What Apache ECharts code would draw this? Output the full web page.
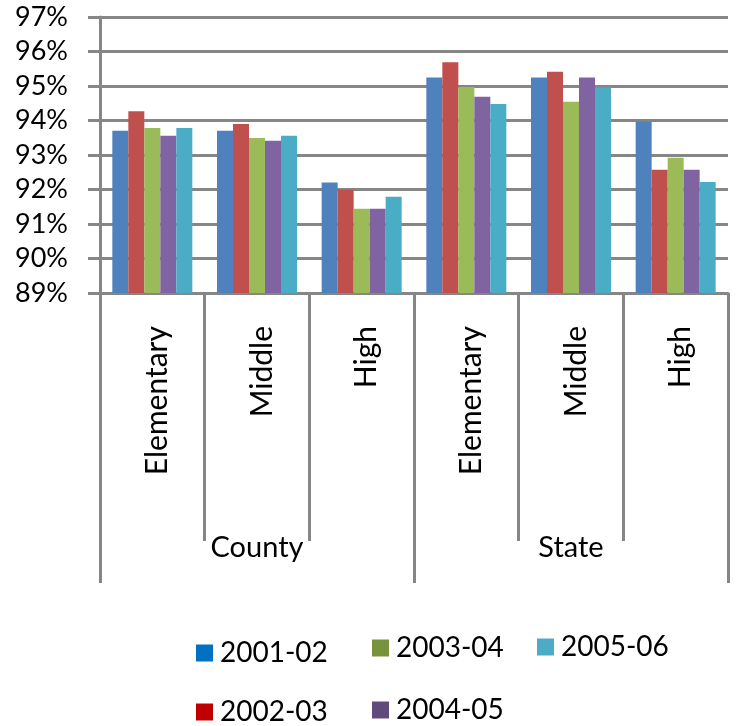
<!DOCTYPE html>
<html><head><meta charset="utf-8">
<script src="https://cdn.jsdelivr.net/npm/echarts@6/dist/echarts.min.js"></script>
<style>html,body{margin:0;padding:0;background:#fff}#c{width:737px;height:726px}</style>
</head><body><div id="c"></div>
<script>
const schoolLevels = ['Elementary','Middle','High','Elementary','Middle','High'];
const regions = ['County','State'];
const seriesNames = ['2001-02','2002-03','2003-04','2004-05','2005-06'];
const s2001 = [93.7, 93.7, 92.2, 95.25, 95.25, 93.97];
const s2002 = [94.27, 93.9, 92.0, 95.69, 95.41, 92.57];
const s2003 = [93.78, 93.49, 91.44, 94.97, 94.54, 92.92];
const s2004 = [93.56, 93.41, 91.44, 94.69, 95.25, 92.57];
const s2005 = [93.78, 93.56, 91.79, 94.48, 94.96, 92.22];
const yTicks = {min: 89, max: 97, step: 1};

const barColors = ['#4F81BD','#C0504D','#9BBB59','#8064A2','#4BACC6'];
const legendColors = ['#0070C0','#C00000','#77933C','#604A7B','#4BACC6'];
const allData = [s2001, s2002, s2003, s2004, s2005];
const gray = '#868686';
const font = 'Lato';
const legendPos = [[196,639],[196,698],[372,634],[372,696],[537,633]];

const chart = echarts.init(document.getElementById('c'));
chart.setOption({
  animation: false,
  textStyle: {fontFamily: font, color: '#000'},
  grid: {left: 100, right: 9, top: 17, bottom: 433, containLabel: false},
  legend: seriesNames.map((n, i) => ({
    left: legendPos[i][0], top: legendPos[i][1], padding: 0,
    itemWidth: 17, itemHeight: 17, itemGap: 0, icon: 'rect',
    textStyle: {fontSize: 28, fontFamily: font, color: '#000', padding: [0,0,0,2]},
    data: [{name: n, itemStyle: {color: legendColors[i]}}],
    selectedMode: false
  })),
  xAxis: [{
    type: 'category', data: schoolLevels, position: 'bottom',
    axisLine: {show: true, lineStyle: {color: gray, width: 3}},
    axisTick: {show: true, interval: 0, length: 248, lineStyle: {color: gray, width: 3}},
    axisLabel: {rotate: 90, interval: 0, margin: 33, fontSize: 30, fontFamily: font, color: '#000', verticalAlign: 'top', lineHeight: 10},
    splitLine: {show: false}
  }, {
    type: 'category', data: regions, position: 'bottom',
    axisLine: {show: false},
    axisTick: {show: true, interval: 0, length: 290, lineStyle: {color: gray, width: 3}},
    axisLabel: {interval: 0, margin: 240, fontSize: 29, fontFamily: font, color: '#000'},
    splitLine: {show: false}
  }],
  yAxis: {
    type: 'value', min: yTicks.min, max: yTicks.max, interval: yTicks.step,
    axisLine: {show: true, lineStyle: {color: gray, width: 3}},
    axisTick: {show: true, length: 12, lineStyle: {color: gray, width: 3}},
    axisLabel: {formatter: '{value}%', margin: 32, fontSize: 27, fontFamily: font, color: '#000'},
    splitLine: {show: true, lineStyle: {color: gray, width: 3}}
  },
  series: seriesNames.map((n, i) => ({
    name: n, type: 'bar', xAxisIndex: 0, yAxisIndex: 0,
    data: allData[i], barWidth: 16, barGap: '0%',
    itemStyle: {color: barColors[i]}
  }))
});
</script>
</body></html>
